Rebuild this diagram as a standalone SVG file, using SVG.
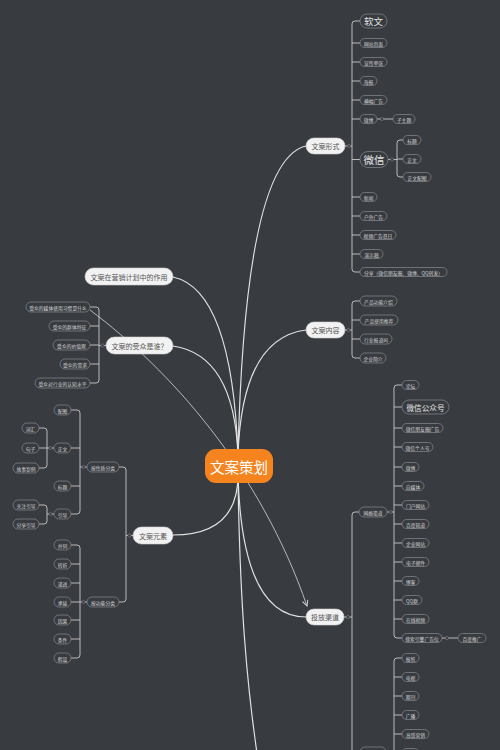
<svg xmlns="http://www.w3.org/2000/svg" width="500" height="750" viewBox="0 0 500 750">
<defs>
<style>
.bg{fill:#383b40}
.n rect{fill:#383b40;stroke:#7d8085;stroke-width:0.8}
.n text{fill:#d6d6d6;font-family:"Noto Sans CJK SC","Noto Sans",sans-serif;font-size:4.8px;text-anchor:middle;dominant-baseline:central}
.n.big text{font-size:9.5px;fill:#e6e6e6}
.n.mid text{font-size:7.6px;fill:#e6e6e6}
.m rect{fill:#f2f2f2;stroke:#d0d0d0;stroke-width:0.6}
.m text{fill:#555;font-family:"Noto Sans CJK SC","Noto Sans",sans-serif;font-size:7px;text-anchor:middle;dominant-baseline:central}
.c rect{fill:#f5841f}
.c text{fill:#fff;font-family:"Noto Sans CJK SC","Noto Sans",sans-serif;font-size:14.5px;text-anchor:middle;dominant-baseline:central}
.curve{fill:none;stroke:#e2e2e2;stroke-width:1.2}
.br{fill:none;stroke:#c8c8c8;stroke-width:0.9}
.rel{fill:none;stroke:#d8d8d8;stroke-width:0.8}
.ind{fill:#383b40;stroke:#8a8d91;stroke-width:0.5}
</style>
<marker id="arr" viewBox="0 0 10 10" refX="9" refY="5" markerWidth="7" markerHeight="7" orient="auto" markerUnits="userSpaceOnUse">
<path d="M1,1 L9,5 L1,9" fill="none" stroke="#d8d8d8" stroke-width="1.4"/>
</marker>
</defs>
<rect class="bg" x="0" y="0" width="500" height="750"/>

<g id="connectors">
<!-- main curves -->
<path class="curve" d="M238,455 Q245,160 306,146"/>
<path class="curve" d="M238,455 Q242,338 306,330"/>
<path class="curve" d="M238,455 Q232,290 173,277"/>
<path class="curve" d="M238,455 Q234,355 173,346"/>
<path class="curve" d="M238,475 Q238,535 173,535"/>
<path class="curve" d="M238,475 Q242,617 306,617"/>
<path class="curve" d="M238,480 C240,600 246,680 258,760"/>
<!-- 文案形式 bracket -->
<path class="br" d="M345,146 H352"/>
<path class="br" d="M360,21 H355 Q352,21 352,24 V269 Q352,272 355,272 H360"/>
<path class="br" d="M352,43 H360 M352,62 H360 M352,81 H360 M352,100 H360 M352,119 H360 M352,159.5 H360 M352,197 H360 M352,216 H360 M352,235 H360 M352,254 H360"/>
<path class="br" d="M377,119 H393"/>
<path class="br" d="M388,159.5 H397"/>
<path class="br" d="M403,140 H400 Q397,140 397,143 V174 Q397,177 400,177 H403 M397,159 H403"/>
<!-- 文案内容 -->
<path class="br" d="M345,330 H352"/>
<path class="br" d="M360,301 H355 Q352,301 352,304 V355 Q352,358 355,358 H360 M352,320 H360 M352,339 H360"/>
<!-- 受众 -->
<path class="br" d="M106,345.5 H99"/>
<path class="br" d="M90,307 H96 Q99,307 99,310 V380 Q99,383 96,383 H90 M99,326 H90 M99,345 H90 M99,364 H90"/>
<!-- 文案元素 -->
<path class="br" d="M133,535.5 H126"/>
<path class="br" d="M119,467 H123 Q126,467 126,470 V599 Q126,602 123,602 H119"/>
<path class="br" d="M87,467 H80"/>
<path class="br" d="M71,410 H77 Q80,410 80,413 V511 Q80,514 77,514 H71 M80,448 H71 M80,486 H71"/>
<path class="br" d="M54,448 H47"/>
<path class="br" d="M39,428 H44 Q47,428 47,431 V465 Q47,468 44,468 H39 M47,448 H39"/>
<path class="br" d="M54,514 H47"/>
<path class="br" d="M39,505 H44 Q47,505 47,508 V521 Q47,524 44,524 H39"/>
<path class="br" d="M87,602 H80"/>
<path class="br" d="M71,545 H77 Q80,545 80,548 V655 Q80,658 77,658 H71 M80,564 H71 M80,583 H71 M80,602 H71 M80,620 H71 M80,639 H71"/>
<!-- 投放渠道 -->
<path class="br" d="M344,617 H352"/>
<path class="br" d="M359,512 H355 Q352,512 352,515 V760 M352,752 H360"/>
<path class="br" d="M387,512 H394"/>
<path class="br" d="M402,385 H397 Q394,385 394,388 V635 Q394,638 397,638 H402 M394,407 H402 M394,428 H402 M394,447 H402 M394,467 H402 M394,486 H402 M394,505 H402 M394,524 H402 M394,543 H402 M394,562 H402 M394,581 H402 M394,600 H402 M394,619 H402"/>
<path class="br" d="M442,638 H458"/>
<path class="br" d="M402,658 H397 Q394,658 394,661 V760 M394,677 H402 M394,696 H402 M394,715 H402 M394,734 H402 M394,753 H402"/>
<!-- indicators -->
<circle class="ind" cx="349" cy="146" r="1.6"/>
<circle class="ind" cx="382" cy="119" r="1.6"/>
<circle class="ind" cx="392" cy="159.5" r="1.6"/>
<circle class="ind" cx="348.5" cy="330" r="1.6"/>
<circle class="ind" cx="102.5" cy="345.5" r="1.6"/>
<circle class="ind" cx="129.5" cy="535.5" r="1.6"/>
<circle class="ind" cx="83.5" cy="467" r="1.6"/>
<circle class="ind" cx="50.5" cy="448" r="1.6"/>
<circle class="ind" cx="50.5" cy="514" r="1.6"/>
<circle class="ind" cx="83.5" cy="602" r="1.6"/>
<circle class="ind" cx="348" cy="617" r="1.6"/>
<circle class="ind" cx="390.5" cy="512" r="1.6"/>
<circle class="ind" cx="447" cy="638" r="1.6"/>
<!-- relationship -->
<path class="rel" d="M90,310 C170,370 260,470 307,606" marker-end="url(#arr)"/>
</g>

<g id="center" class="c"><rect x="205" y="449" width="68" height="34" rx="11"/><text x="239" y="466">文案策划</text></g>

<g id="main-xingshi" class="m"><rect x="306" y="138" width="39" height="16" rx="8"/><text x="325.5" y="146">文案形式</text></g>
<g id="main-neirong" class="m"><rect x="306" y="322" width="39" height="16" rx="8"/><text x="325.5" y="330">文案内容</text></g>
<g id="main-toufang" class="m"><rect x="306" y="609" width="38" height="16" rx="8"/><text x="325" y="617">投放渠道</text></g>
<g id="main-zuoyong" class="m"><rect x="85" y="268" width="88" height="17" rx="8.5"/><text x="129" y="276.5">文案在营销计划中的作用</text></g>
<g id="main-shouzhong" class="m"><rect x="106" y="337" width="67" height="17" rx="8.5"/><text x="139.5" y="345.5">文案的受众是谁？</text></g>
<g id="main-yuansu" class="m"><rect x="133" y="527" width="40" height="17" rx="8.5"/><text x="153" y="535.5">文案元素</text></g>

<!-- 文案形式 children -->
<g id="n-ruanwen" class="n big"><rect x="360" y="14" width="27" height="14" rx="7"/><text x="373.5" y="21">软文</text></g>
<g id="n-wangzhan" class="n"><rect x="360" y="38.5" width="27" height="9" rx="4.5"/><text x="373.5" y="43">网站页面</text></g>
<g id="n-xuanchuan" class="n"><rect x="360" y="57.5" width="27" height="9" rx="4.5"/><text x="373.5" y="62">宣传单张</text></g>
<g id="n-haibao" class="n"><rect x="360" y="76.5" width="17" height="9" rx="4.5"/><text x="368.5" y="81">海报</text></g>
<g id="n-hengfu" class="n"><rect x="360" y="95.5" width="27" height="9" rx="4.5"/><text x="373.5" y="100">横幅广告</text></g>
<g id="n-weibo1" class="n"><rect x="360" y="114.5" width="17" height="9" rx="4.5"/><text x="368.5" y="119">微博</text></g>
<g id="n-zizhuti" class="n"><rect x="393" y="114.5" width="22" height="9" rx="4.5"/><text x="404" y="119">子主题</text></g>
<g id="n-weixin" class="n big"><rect x="360" y="151.5" width="28" height="16" rx="8"/><text x="374" y="159.5" style="font-size:10.5px">微信</text></g>
<g id="n-biaoti1" class="n"><rect x="403" y="135.5" width="18" height="9" rx="4.5"/><text x="412" y="140">标题</text></g>
<g id="n-zhengwen1" class="n"><rect x="403" y="154.5" width="18" height="9" rx="4.5"/><text x="412" y="159">正文</text></g>
<g id="n-peitu1" class="n"><rect x="403" y="172.5" width="28" height="9" rx="4.5"/><text x="417" y="177">正文配图</text></g>
<g id="n-xinwen" class="n"><rect x="360" y="192.5" width="17" height="9" rx="4.5"/><text x="368.5" y="197">新闻</text></g>
<g id="n-huwai" class="n"><rect x="360" y="211.5" width="27" height="9" rx="4.5"/><text x="373.5" y="216">户外广告</text></g>
<g id="n-shipin" class="n"><rect x="360" y="230.5" width="36" height="9" rx="4.5"/><text x="378" y="235">视频广告悬日</text></g>
<g id="n-yanshi" class="n"><rect x="360" y="249.5" width="23" height="9" rx="4.5"/><text x="371.5" y="254">演示稿</text></g>
<g id="n-fenxiang" class="n"><rect x="360" y="267.5" width="87" height="9" rx="4.5"/><text x="403.5" y="272">分享（微信朋友圈、微博、QQ转发）</text></g>

<!-- 文案内容 children -->
<g id="n-gongneng" class="n"><rect x="360" y="296" width="37" height="10" rx="5"/><text x="378.5" y="301">产品功能介绍</text></g>
<g id="n-shiyong" class="n"><rect x="360" y="315" width="38" height="10" rx="5"/><text x="379" y="320">产品使用推荐</text></g>
<g id="n-hangye" class="n"><rect x="360" y="334" width="32" height="10" rx="5"/><text x="376" y="339">行业报道吗</text></g>
<g id="n-qiye" class="n"><rect x="360" y="353" width="26" height="10" rx="5"/><text x="373" y="358">企业简介</text></g>

<!-- 受众 children -->
<g id="n-meiti" class="n"><rect x="26" y="302" width="64" height="10" rx="5"/><text x="58" y="307">受众的媒体使用习惯是什么</text></g>
<g id="n-qunti" class="n"><rect x="49" y="321" width="41" height="10" rx="5"/><text x="69.5" y="326">受众的群体特征</text></g>
<g id="n-jiazhi" class="n"><rect x="53" y="340" width="37" height="10" rx="5"/><text x="71.5" y="345">受众的价值观</text></g>
<g id="n-xuqiu" class="n"><rect x="60" y="359" width="30" height="10" rx="5"/><text x="75" y="364">受众的需求</text></g>
<g id="n-renzhi" class="n"><rect x="35" y="378" width="55" height="10" rx="5"/><text x="62.5" y="383">受众对行业的认知水平</text></g>

<!-- 文案元素 -->
<g id="n-xingzhi" class="n"><rect x="87" y="462" width="32" height="10" rx="5"/><text x="103" y="467">按性质分类</text></g>
<g id="n-peitu" class="n"><rect x="54" y="405" width="17" height="10" rx="5"/><text x="62.5" y="410">配图</text></g>
<g id="n-zhengwen" class="n"><rect x="54" y="443" width="17" height="10" rx="5"/><text x="62.5" y="448">正文</text></g>
<g id="n-cihui" class="n"><rect x="22" y="423" width="17" height="10" rx="5"/><text x="30.5" y="428">词汇</text></g>
<g id="n-juzi" class="n"><rect x="22" y="443" width="17" height="10" rx="5"/><text x="30.5" y="448">句子</text></g>
<g id="n-gushi" class="n"><rect x="13" y="463" width="26" height="10" rx="5"/><text x="26" y="468">故事案例</text></g>
<g id="n-biaoti" class="n"><rect x="54" y="481" width="17" height="10" rx="5"/><text x="62.5" y="486">标题</text></g>
<g id="n-yindao" class="n"><rect x="54" y="509" width="17" height="10" rx="5"/><text x="62.5" y="514">引导</text></g>
<g id="n-guanzhu" class="n"><rect x="13" y="500" width="26" height="10" rx="5"/><text x="26" y="505">关注引导</text></g>
<g id="n-fenxiangyd" class="n"><rect x="13" y="519" width="26" height="10" rx="5"/><text x="26" y="524">分享引导</text></g>
<g id="n-gongnengfl" class="n"><rect x="87" y="597" width="32" height="10" rx="5"/><text x="103" y="602">按功能分类</text></g>
<g id="n-binglie" class="n"><rect x="54" y="540" width="17" height="10" rx="5"/><text x="62.5" y="545">并列</text></g>
<g id="n-zhuanzhe" class="n"><rect x="54" y="559" width="17" height="10" rx="5"/><text x="62.5" y="564">转折</text></g>
<g id="n-dijin" class="n"><rect x="54" y="578" width="17" height="10" rx="5"/><text x="62.5" y="583">递进</text></g>
<g id="n-chengjie" class="n"><rect x="54" y="597" width="17" height="10" rx="5"/><text x="62.5" y="602">承接</text></g>
<g id="n-yinguo" class="n"><rect x="54" y="615" width="17" height="10" rx="5"/><text x="62.5" y="620">因果</text></g>
<g id="n-tiaojian" class="n"><rect x="54" y="634" width="17" height="10" rx="5"/><text x="62.5" y="639">条件</text></g>
<g id="n-jiashe" class="n"><rect x="54" y="653" width="17" height="10" rx="5"/><text x="62.5" y="658">假设</text></g>

<!-- 投放渠道 -->
<g id="n-wangluo" class="n"><rect x="359" y="507" width="28" height="10" rx="5"/><text x="373" y="512">网络渠道</text></g>
<g id="n-luntan" class="n"><rect x="402" y="380.5" width="17" height="9" rx="4.5"/><text x="410.5" y="385">论坛</text></g>
<g id="n-gzh" class="n mid"><rect x="402" y="400" width="47" height="14" rx="7"/><text x="425.5" y="407">微信公众号</text></g>
<g id="n-pyq" class="n"><rect x="402" y="423.5" width="41" height="9" rx="4.5"/><text x="422.5" y="428">微信朋友圈广告</text></g>
<g id="n-geren" class="n"><rect x="402" y="442.5" width="31" height="9" rx="4.5"/><text x="417.5" y="447">微信个人号</text></g>
<g id="n-weibo2" class="n"><rect x="402" y="462.5" width="17" height="9" rx="4.5"/><text x="410.5" y="467">微博</text></g>
<g id="n-zimeiti" class="n"><rect x="402" y="481.5" width="22" height="9" rx="4.5"/><text x="413" y="486">自媒体</text></g>
<g id="n-menhu" class="n"><rect x="402" y="500.5" width="27" height="9" rx="4.5"/><text x="415.5" y="505">门户网站</text></g>
<g id="n-zhidao" class="n"><rect x="402" y="519.5" width="27" height="9" rx="4.5"/><text x="415.5" y="524">百度知道</text></g>
<g id="n-qiyewz" class="n"><rect x="402" y="538.5" width="27" height="9" rx="4.5"/><text x="415.5" y="543">企业网站</text></g>
<g id="n-youjian" class="n"><rect x="402" y="557.5" width="27" height="9" rx="4.5"/><text x="415.5" y="562">电子邮件</text></g>
<g id="n-boke" class="n"><rect x="402" y="576.5" width="17" height="9" rx="4.5"/><text x="410.5" y="581">博客</text></g>
<g id="n-qq" class="n"><rect x="402" y="595.5" width="20" height="9" rx="4.5"/><text x="412" y="600">QQ群</text></g>
<g id="n-zaixian" class="n"><rect x="402" y="614.5" width="27" height="9" rx="4.5"/><text x="415.5" y="619">在线视频</text></g>
<g id="n-sousuo" class="n"><rect x="402" y="633.5" width="40" height="9" rx="4.5"/><text x="422" y="638">搜索引擎广告位</text></g>
<g id="n-tuiguang" class="n"><rect x="458" y="633.5" width="28" height="9" rx="4.5"/><text x="472" y="638">百度推广</text></g>
<g id="n-baozhi" class="n"><rect x="402" y="653.5" width="17" height="9" rx="4.5"/><text x="410.5" y="658">报纸</text></g>
<g id="n-dianshi" class="n"><rect x="402" y="672.5" width="17" height="9" rx="4.5"/><text x="410.5" y="677">电视</text></g>
<g id="n-qikan" class="n"><rect x="402" y="691.5" width="17" height="9" rx="4.5"/><text x="410.5" y="696">期刊</text></g>
<g id="n-guangbo" class="n"><rect x="402" y="710.5" width="17" height="9" rx="4.5"/><text x="410.5" y="715">广播</text></g>
<g id="n-gaotie" class="n"><rect x="402" y="729.5" width="27" height="9" rx="4.5"/><text x="415.5" y="734">高铁营销</text></g>
<g id="n-cut1" class="n"><rect x="402" y="748.5" width="17" height="9" rx="4.5"/></g>
<g id="n-chuantong" class="n"><rect x="360" y="747" width="26" height="10" rx="5"/></g>
</svg>
